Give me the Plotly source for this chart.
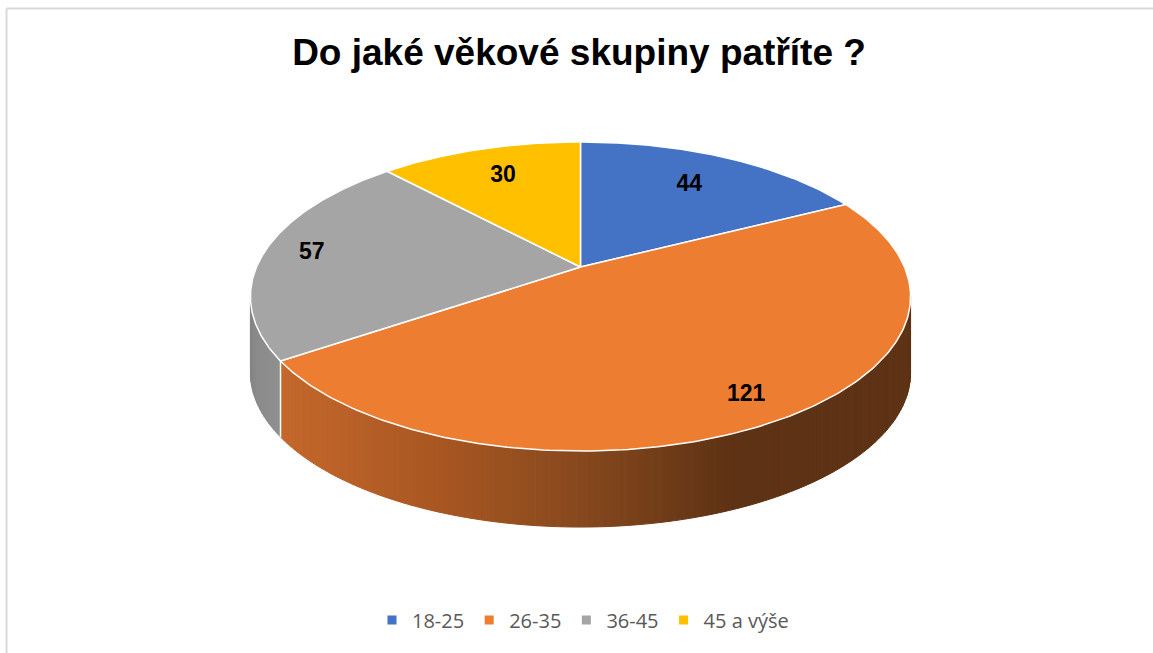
import numpy as np
import plotly.graph_objects as go

# ---- data ----
categories = ["18-25", "26-35", "36-45", "45 a výše"]
values = [44, 121, 57, 30]
colors = ["#4472C4", "#ED7D31", "#A5A5A5", "#FFC000"]
title_text = "Do jaké věkové skupiny patříte ?"

# ---- style / geometry parameters (pixels) ----
W, H = 1153, 653
CX, CY = 580.5, 267.0      # projected pie centre (apex)
A, B, P = 324.0, 148.9, 0.191  # ellipse semi axes and perspective factor
DEPTH = 76.0
label_radius = [0.72, 0.86, 0.85, 0.74]
side_stops_x = [280, 440, 570, 730, 920]
side_stops_rgb = [(196, 104, 44), (168, 86, 33), (138, 74, 30), (94, 50, 20), (94, 50, 20)]
gray_side = (140, 140, 140)


def proj(theta_deg, r=1.0):
    t = np.radians(theta_deg)
    u = r * np.sin(t)
    v = -r * np.cos(t)
    w = 1 - P * v
    return CX + A * u / w, CY + B * v / w


def lerp_color(x):
    rgb = [np.interp(x, side_stops_x, [c[i] for c in side_stops_rgb]) for i in range(3)]
    return "rgb(%d,%d,%d)" % tuple(int(round(c)) for c in rgb)


total = sum(values)
bounds = np.concatenate([[0], np.cumsum(values)]) / total * 360.0
vis_lo = 180 - np.degrees(np.arccos(P))
vis_hi = 180 + np.degrees(np.arccos(P))

fig = go.Figure()

# ---- side walls ----
for i, cat in enumerate(categories):
    a0, a1 = max(bounds[i], vis_lo), min(bounds[i + 1], vis_hi)
    if a1 <= a0:
        continue
    n = max(2, int((a1 - a0) / 1.2))
    th = np.linspace(a0, a1, n + 1)
    for k in range(n):
        xa, ya = proj(th[k])
        xb, yb = proj(th[k + 1])
        if i == 1:
            col = lerp_color((xa + xb) / 2)
        else:
            f = (k + 0.5) / n
            col = "rgb(%d,%d,%d)" % tuple(int(c * (0.95 + 0.08 * (1 - f))) for c in gray_side)
        fig.add_trace(go.Scatter(
            x=[xa, xb, xb, xa, xa], y=[ya, yb, yb + DEPTH, ya + DEPTH, ya],
            mode="lines", fill="toself", fillcolor=col,
            line=dict(color=col, width=1), hoverinfo="skip", showlegend=False))

# white seams between side walls
for b in bounds:
    if vis_lo < b < vis_hi:
        x0, y0 = proj(b)
        fig.add_trace(go.Scatter(x=[x0, x0], y=[y0, y0 + DEPTH], mode="lines",
                                 line=dict(color="white", width=1.5),
                                 hoverinfo="skip", showlegend=False))

# ---- top faces ----
for i, cat in enumerate(categories):
    th = np.linspace(bounds[i], bounds[i + 1], 200)
    xs, ys = proj(th)
    fig.add_trace(go.Scatter(
        x=np.concatenate([[CX], xs, [CX]]), y=np.concatenate([[CY], ys, [CY]]),
        mode="lines", fill="toself", fillcolor=colors[i],
        line=dict(color="white", width=1.5), name=cat,
        hovertemplate=cat + ": %d<extra></extra>" % values[i], showlegend=False))

# ---- data labels ----
mids = (bounds[:-1] + bounds[1:]) / 2
lx, ly = [], []
for i in range(len(values)):
    x, y = proj(mids[i], label_radius[i])
    lx.append(x)
    ly.append(y)
fig.add_trace(go.Scatter(
    x=lx, y=ly, mode="text", text=[str(v) for v in values],
    textfont=dict(family="Liberation Sans", size=23, color="black", weight="bold"),
    hoverinfo="skip", showlegend=False))

# ---- legend entries ----
for i, cat in enumerate(categories):
    fig.add_trace(go.Scatter(
        x=[None], y=[None], mode="markers", name=cat,
        marker=dict(symbol="square", size=9, color=colors[i]),
        showlegend=True))

# ---- frame ----
fig.add_shape(type="line", x0=6.5, y0=8.5, x1=6.5, y1=H, line=dict(color="#d9d9d9", width=2))
fig.add_shape(type="line", x0=6.5, y0=8.5, x1=W, y1=8.5, line=dict(color="#d9d9d9", width=2))

fig.update_layout(
    width=W, height=H, autosize=False,
    margin=dict(l=0, r=0, t=0, b=0),
    paper_bgcolor="white", plot_bgcolor="white",
    title=dict(text="<b>" + title_text + "</b>", x=579 / W, xanchor="center",
               y=1 - 52 / H, yanchor="middle",
               font=dict(family="Liberation Sans", size=37, color="black")),
    xaxis=dict(range=[0, W], visible=False, fixedrange=True),
    yaxis=dict(range=[H, 0], visible=False, fixedrange=True),
    legend=dict(orientation="h", x=583 / W, xanchor="center",
                y=1 - 620 / H, yanchor="middle",
                font=dict(family="Open Sans", size=20, color="#595959"),
                bgcolor="rgba(0,0,0,0)", itemclick=False, itemdoubleclick=False),
)

fig.write_html("out.html", config={"displayModeBar": False},
               post_script="document.body.style.margin='0';document.body.style.overflow='hidden';")
